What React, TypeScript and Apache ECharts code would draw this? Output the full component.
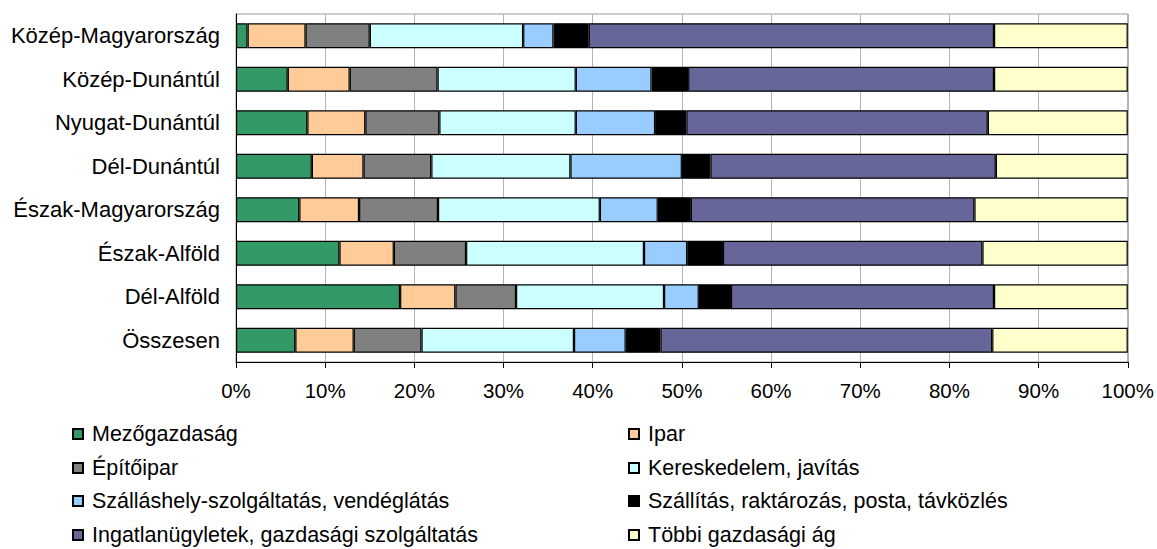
import React, { useEffect, useRef } from "react";
import * as echarts from "echarts";

const categories = [
  "Közép-Magyarország",
  "Közép-Dunántúl",
  "Nyugat-Dunántúl",
  "Dél-Dunántúl",
  "Észak-Magyarország",
  "Észak-Alföld",
  "Dél-Alföld",
  "Összesen",
];

const seriesNames = [
  "Mezőgazdaság",
  "Ipar",
  "Építőipar",
  "Kereskedelem, javítás",
  "Szálláshely-szolgáltatás, vendéglátás",
  "Szállítás, raktározás, posta, távközlés",
  "Ingatlanügyletek, gazdasági szolgáltatás",
  "Többi gazdasági ág",
];

const seriesColors = ["#339966", "#FFCC99", "#808080", "#CCFFFF", "#99CCFF", "#000000", "#666699", "#FFFFCC"];

const mezogazdasag = [1.3, 5.8, 8.0, 8.5, 7.1, 11.6, 18.4, 6.65];
const ipar = [6.5, 6.95, 6.5, 5.8, 6.7, 6.1, 6.2, 6.55];
const epitoipar = [7.2, 9.85, 8.3, 7.6, 8.85, 8.1, 6.8, 7.6];
const kereskedelem = [17.2, 15.5, 15.3, 15.6, 18.15, 19.95, 16.6, 17.1];
const szallashely = [3.4, 8.5, 8.9, 12.5, 6.5, 4.85, 3.9, 5.8];
const szallitas = [3.95, 4.1, 3.5, 3.2, 3.7, 4.0, 3.6, 3.9];
const ingatlan = [45.45, 34.3, 33.8, 32.0, 31.8, 29.1, 29.5, 37.2];
const tobbi = [15.0, 15.0, 15.7, 14.8, 17.2, 16.3, 15.0, 15.2];

const seriesData = [mezogazdasag, ipar, epitoipar, kereskedelem, szallashely, szallitas, ingatlan, tobbi];

const xTicks = [0, 10, 20, 30, 40, 50, 60, 70, 80, 90, 100];

const FONT = "'Liberation Sans', Arial, sans-serif";

export default function App() {
  const ref = useRef<HTMLDivElement>(null);

  useEffect(() => {
    if (!ref.current) return;
    const chart = echarts.init(ref.current, undefined, { renderer: "svg" });

    const legendCols = [72, 628];
    const legendRows = [423, 457, 490, 524];

    const legends = seriesNames.map((name, i) => ({
      show: true,
      data: [name],
      left: legendCols[i % 2],
      top: legendRows[Math.floor(i / 2)],
      orient: "horizontal",
      padding: 0,
      icon: "rect",
      itemWidth: 10,
      itemHeight: 10,
      selectedMode: false,
      textStyle: {
        fontFamily: FONT,
        fontSize: 21.5,
        lineHeight: 22,
        color: "#000",
        padding: [0, 0, 0, 4],
      },
    }));

    chart.setOption({
      animation: false,
      backgroundColor: "#fff",
      textStyle: { fontFamily: FONT },
      grid: {
        left: 236,
        right: 29,
        top: 14,
        bottom: 187,
        show: true,
        borderColor: "#999",
        borderWidth: 1,
        containLabel: false,
      },
      legend: legends,
      xAxis: {
        type: "value",
        min: 0,
        max: 100,
        interval: 10,
        axisLine: { show: true, lineStyle: { color: "#000", width: 1 } },
        axisTick: { show: true, length: 6, lineStyle: { color: "#000" } },
        splitLine: { show: true, lineStyle: { color: "#b3b3b3", width: 1 } },
        axisLabel: {
          formatter: (v: number) => (xTicks.includes(v) ? v + "%" : ""),
          fontFamily: FONT,
          fontSize: 20.5,
          color: "#000",
          margin: 18,
        },
      },
      yAxis: {
        type: "category",
        data: categories,
        inverse: true,
        axisLine: { show: true, lineStyle: { color: "#000", width: 1 } },
        axisTick: { show: false },
        axisLabel: {
          fontFamily: FONT,
          fontSize: 22,
          color: "#000",
          margin: 16,
        },
      },
      series: seriesNames.map((name, i) => ({
        name,
        type: "bar",
        stack: "total",
        barWidth: 25,
        data: seriesData[i],
        itemStyle: {
          color: seriesColors[i],
          borderColor: "#000",
          borderWidth: 1.2,
        },
        emphasis: { disabled: true },
      })),
    });

    return () => chart.dispose();
  }, []);

  return (
    <div
      ref={ref}
      style={{ position: "fixed", left: 0, top: 0, width: 1157, height: 549 }}
    />
  );
}
